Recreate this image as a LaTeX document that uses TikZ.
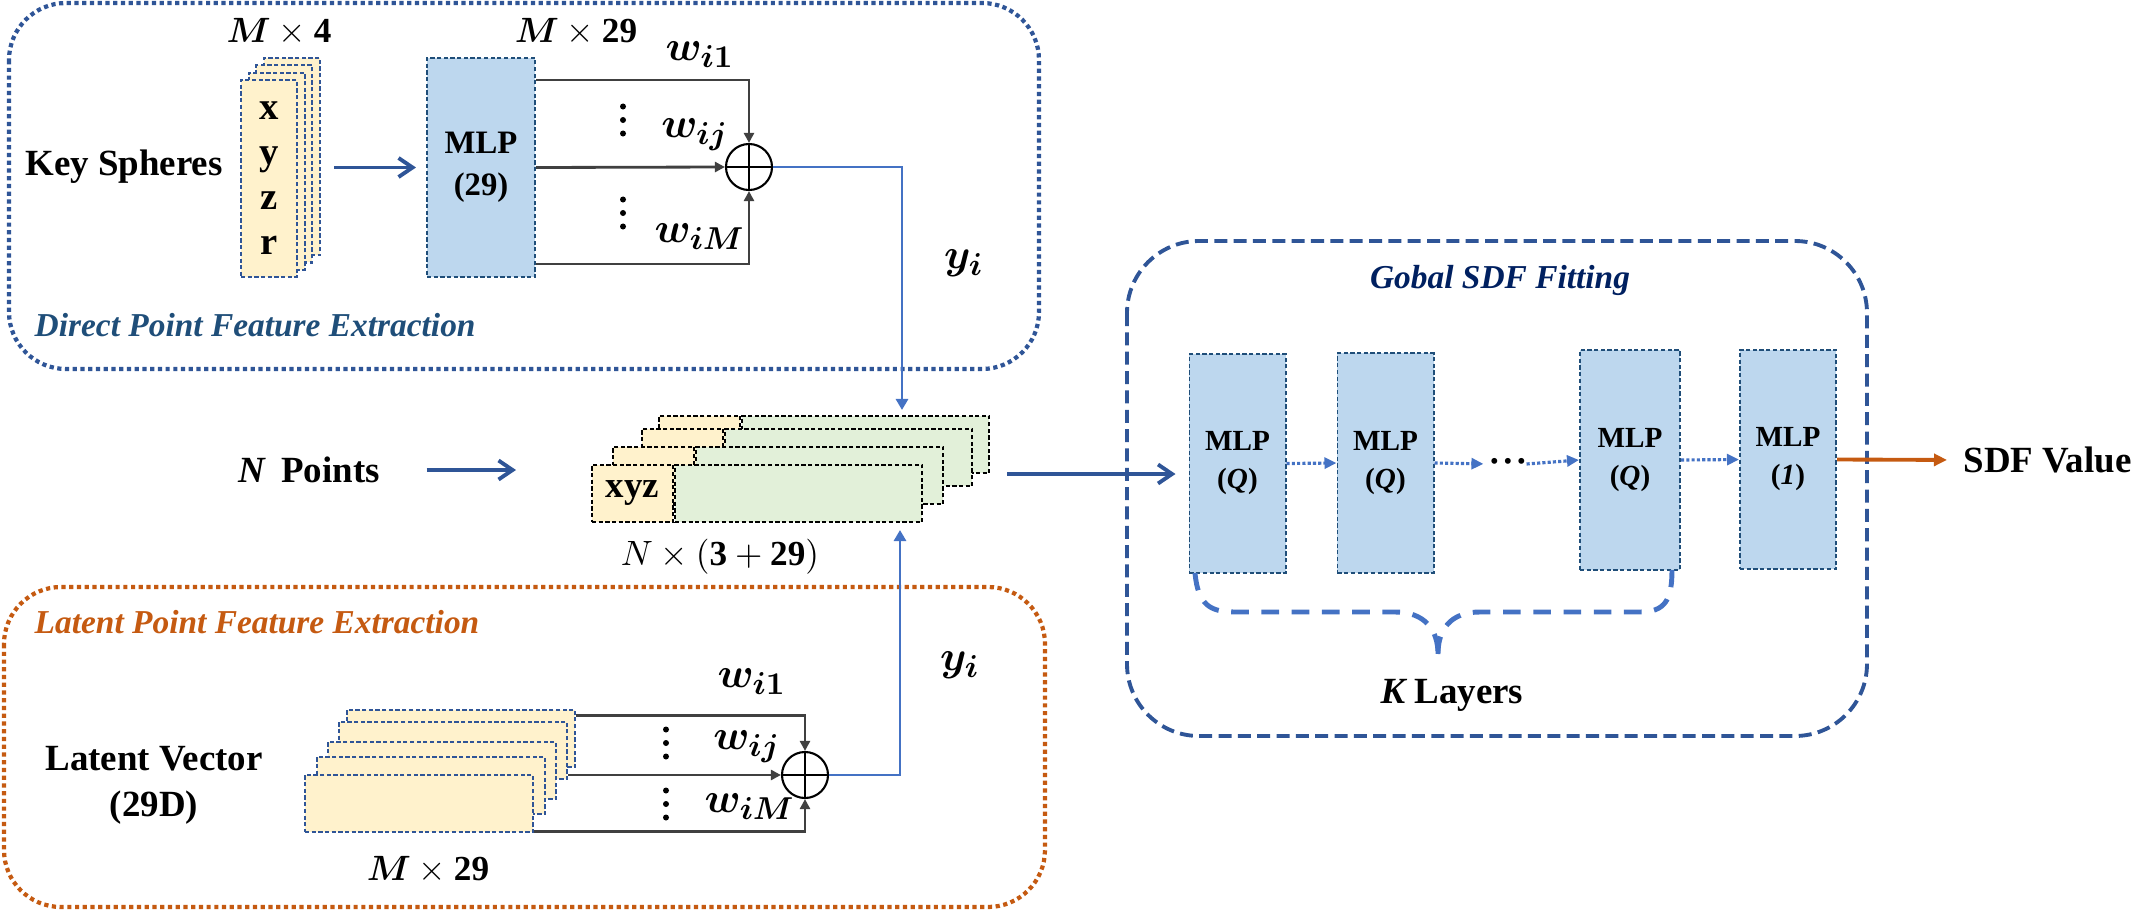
\documentclass[tikz,border=0pt]{standalone}
\usepackage{fontspec}
\setmainfont{Liberation Serif}
\usepackage{amsmath}
\usetikzlibrary{arrows.meta}
\definecolor{dkblue}{HTML}{2F5597}
\definecolor{ltblue}{HTML}{4472C4}
\definecolor{mlpfill}{HTML}{BDD7EE}
\definecolor{mlpline}{HTML}{1F4E79}
\definecolor{cardyel}{HTML}{FFF2CC}
\definecolor{cardgrn}{HTML}{E2F0D9}
\definecolor{orng}{HTML}{C55A11}
\definecolor{navy}{HTML}{002060}
\definecolor{wgray}{HTML}{404040}
\tikzset{
  lab/.style={font=\fontsize{10.5}{13}\selectfont\bfseries, inner sep=0pt},
  mathlab/.style={font=\fontsize{10}{12}\selectfont, inner sep=0pt},
  wlab/.style={font=\fontsize{12.5}{14}\selectfont, inner sep=0pt},
  ttl/.style={font=\fontsize{9.5}{11}\selectfont\bfseries\itshape, inner sep=0pt},
  kcard/.style={draw=dkblue, fill=cardyel, line width=0.6pt, dash pattern=on 1.2pt off 0.7pt,
    minimum width=0.56cm, minimum height=1.97cm, inner sep=0pt},
  lcard/.style={kcard, minimum width=2.28cm, minimum height=0.575cm},
  pyel/.style={draw=black, fill=cardyel, line width=0.6pt, dash pattern=on 1.2pt off 0.7pt,
    minimum width=0.81cm, minimum height=0.57cm, inner sep=0pt},
  pgrn/.style={pyel, fill=cardgrn, minimum width=2.47cm},
  mlp/.style={draw=mlpline, fill=mlpfill, line width=0.55pt, dash pattern=on 1.2pt off 0.7pt,
    align=center, inner sep=0pt, font=\fontsize{9.3}{12}\selectfont\bfseries},
  mlpR/.style={mlp, minimum width=0.96cm, minimum height=2.19cm, font=\fontsize{8.3}{10.8}\selectfont\bfseries},
  sumnode/.style={circle, draw=black, line width=0.6pt, minimum size=0.46cm, inner sep=0pt},
  wline/.style={draw=wgray, line width=0.8pt},
  warrow/.style={wline, -{Triangle[length=0.1cm,width=0.1cm]}},
  inarrow/.style={draw=dkblue, line width=1.1pt, -{Straight Barb[length=0.14cm,width=0.19cm]}},
  yline/.style={draw=ltblue, line width=0.85pt, -{Triangle[length=0.11cm,width=0.12cm]}},
  darrow/.style={draw=ltblue, line width=0.9pt, dash pattern=on 0.9pt off 0.6pt,
    -{Triangle[length=0.12cm,width=0.11cm]}},
  oarrow/.style={draw=orng, line width=1.1pt, -{Triangle[length=0.13cm,width=0.12cm]}},
  brc/.style={draw=ltblue, line width=1.4pt, dash pattern=on 5pt off 3.6pt},
  topframe/.style={draw=dkblue, line width=1.2pt, dash pattern=on 1.2pt off 1pt, rounded corners=0.57cm},
  botframe/.style={topframe, draw=orng},
  rframe/.style={draw=dkblue, line width=1.1pt, dash pattern=on 3.7pt off 1.8pt, rounded corners=0.72cm},
}
\begin{document}
\begin{tikzpicture}[x=0.01cm, y=-0.01cm]
    \useasboundingbox (0,0) rectangle (2153,912);
    %%Frames
    \draw[topframe] (9,3) rectangle (1039,369);
    \draw[botframe] (4,587) rectangle (1045,907);
    \draw[rframe] (1127,241) rectangle (1867,736);
    %%Direct point feature extraction
    \node[lab] (keys) at (124,167) {Key Spheres};
    \foreach \k in {3,2,1}
        \node[kcard] (ks\k) at (269+7.7*\k,178.5-7.3*\k) {};
    \node[kcard, align=center, font=\fontsize{11}{12.8}\selectfont\bfseries] (ks) at (269,178.5) {x\\y\\z\\r};
    \node[mathlab] (mk) at (279,32) {$\boldsymbol{M}\times\mathbf{4}$};
    \node[mlp, minimum width=1.08cm, minimum height=2.19cm] (mlpA) at (481,167.5) {MLP\\(29)};
    \node[mathlab] (mm) at (576,32) {$\boldsymbol{M}\times\mathbf{29}$};
    \draw[inarrow, shorten <=0.36cm, shorten >=0.1cm] (ks.east |- mlpA.west) -- (mlpA.west);
    \node[sumnode] (sumA) at (749,167) {};
    \draw[line width=0.6pt] (sumA.north) -- (sumA.south) (sumA.west) -- (sumA.east);
    \draw[warrow] ([yshift=-0.23cm]mlpA.north east) -| (sumA.north);
    \draw[warrow] (mlpA.east) -- (sumA.west);
    \draw[warrow] ([yshift=0.14cm]mlpA.south east) -| (sumA.south);
    \node[wlab] (wA1) at (700,55) {$\boldsymbol{w_{i1}}$};
    \node[wlab] (wAj) at (695,135) {$\boldsymbol{w_{ij}}$};
    \node[wlab] (wAM) at (700,237) {$\boldsymbol{w_{iM}}$};
    \node[wlab] (yA) at (964,263) {$\boldsymbol{y_i}$};
    \node[ttl, text=mlpline, anchor=west] (ttlA) at (34,325) {Direct Point Feature Extraction};
    %%Points
    \node[lab] (np) at (309,470) {{\itshape N}\hspace{0.45em}Points};
    \coordinate (npin) at (516,470);
    \draw[inarrow, shorten <=0.46cm] (np.east) -- (npin);
    \foreach \x/\y/\n in {659/416/4, 642/429/3, 613/447/2}{
        \node[pyel] (px\n) at (\x+40.5,\y+28.5) {};
        \node[pgrn, anchor=west] (pf\n) at (px\n.east) {};
    }
    \node[pyel, font=\fontsize{10.5}{12}\selectfont\bfseries] (px1) at (632.5,493.5) {xyz};
    \node[pgrn, anchor=west] (pf1) at (px1.east) {};
    \node[mathlab] (ndim) at (720,557) {$N\times(\mathbf{3}+\mathbf{29})$};
    \coordinate (topin) at (902,410);
    \draw[yline] (sumA.east) -| (topin);
    %%Latent point feature extraction
    \node[ttl, text=orng, anchor=west] (ttlB) at (34,622) {Latent Point Feature Extraction};
    \node[lab, align=center] (lv) at (154,785) {Latent Vector\\(29D)};
    \foreach \x/\y/\n in {347/710/5, 339/722/4, 328/742/3, 317/757/2, 305/775/1}
        \node[lcard] (lv\n) at (\x+114,\y+28.5) {};
    \node[mathlab] (lm) at (428,870) {$\boldsymbol{M}\times\mathbf{29}$};
    \node[sumnode] (sumB) at (805,775) {};
    \draw[line width=0.6pt] (sumB.north) -- (sumB.south) (sumB.west) -- (sumB.east);
    \draw[warrow] ([yshift=-0.07cm]lv5.north east) -| (sumB.north);
    \draw[warrow] (lv4.east |- sumB.west) -- (sumB.west);
    \draw[warrow] ([yshift=0.02cm]lv1.south east) -| (sumB.south);
    \node[wlab] (wB1) at (752,682) {$\boldsymbol{w_{i1}}$};
    \node[wlab] (wBj) at (747,747) {$\boldsymbol{w_{ij}}$};
    \node[wlab] (wBM) at (750,807) {$\boldsymbol{w_{iM}}$};
    \node[wlab] (yB) at (960,665) {$\boldsymbol{y_i}$};
    \coordinate (botin) at (900,530);
    \draw[yline] (sumB.east) -| (botin);
    %%Vertical dots between the weights
    \foreach \x/\y in {623/120, 623/213, 666/743, 666/804}
        \foreach \d in {-13.5,0,13.5}
            \fill (\x,\y+\d) circle[radius=0.03cm];
    %%Global SDF fitting
    \node[ttl, text=navy] (ttlC) at (1500,280) {Gobal SDF Fitting};
    \node[mlpR] (m1) at (1237.5,463.5) {MLP\\(\textit{Q})};
    \node[mlpR] (m2) at (1385.5,463) {MLP\\(\textit{Q})};
    \node[mlpR, minimum width=1cm] (m3) at (1630,460) {MLP\\(\textit{Q})};
    \node[mlpR] (m4) at (1788,459.5) {MLP\\(\textit{1})};
    \node[font=\fontsize{7}{8}\selectfont, inner sep=0pt] (gdots) at (1508,464)
        {\textbullet\kern1.4pt\textbullet\kern1.4pt\textbullet};
    \coordinate (nout) at (1007,474);
    \draw[inarrow, shorten >=0.13cm] (nout) -- (nout -| m1.west);
    \draw[darrow] (m1.east) -- (m2.west);
    \draw[darrow, shorten >=0.06cm] (m2.east) -- (gdots.west);
    \draw[darrow] (gdots.east) -- (m3.west);
    \draw[darrow] (m3.east) -- (m4.west);
    \node[lab, anchor=west] (sdf) at (1963,460) {SDF Value};
    \draw[oarrow, shorten >=0.16cm] (m4.east) -- (sdf.west);
    %%K layers brace
    \draw[brc] (1195,573) .. controls (1198,605) and (1210,612) .. (1235,612) -- (1395,612)
        .. controls (1425,612) and (1438,630) .. (1438,654);
    \draw[brc] (1438,654) .. controls (1438,630) and (1450,612) .. (1480,612) -- (1640,612)
        .. controls (1665,612) and (1672,600) .. (1672,570);
    \node[lab] (kl) at (1452,695) {{\itshape K} Layers};
\end{tikzpicture}
\end{document}
